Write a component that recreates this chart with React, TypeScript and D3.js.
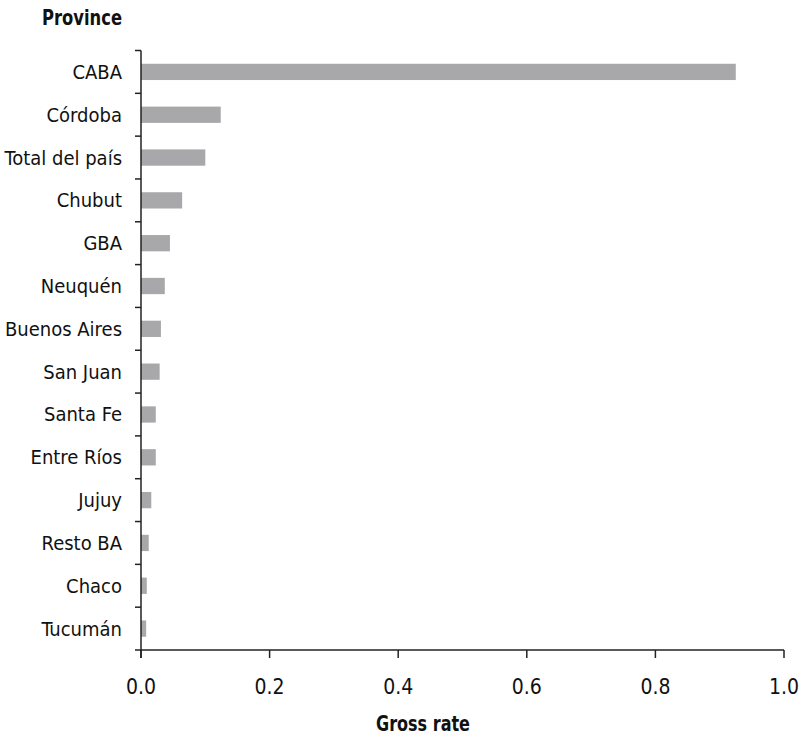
import React from "react";
import * as d3 from "d3";

const categories = ["CABA","Córdoba","Total del país","Chubut","GBA","Neuquén","Buenos Aires","San Juan","Santa Fe","Entre Ríos","Jujuy","Resto BA","Chaco","Tucumán"];
const values = [0.925,0.124,0.1,0.064,0.045,0.037,0.031,0.029,0.023,0.023,0.016,0.012,0.009,0.008];
const xTicks = [0,0.2,0.4,0.6,0.8,1.0];

const W = 802, H = 737;
const m = { left: 141, right: 784, top: 50.5, bottom: 650 };
const FONT = "'Liberation Sans Narrow', 'DejaVu Sans Condensed', 'Roboto Condensed', sans-serif";

export default function App() {
  const x = d3.scaleLinear().domain([0, 1]).range([m.left, m.right]);
  const y = d3.scaleBand().domain(categories).range([m.top, m.bottom]).paddingInner(0.62).paddingOuter(0.31);
  const band = d3.scaleBand().domain(categories).range([m.top, m.bottom]);
  const ax = "#222";
  return (
    <svg width={W} height={H} style={{ position: "absolute", left: 0, top: 0, background: "#fff" }} fontFamily={FONT}>
      <text x={42} y={25} fontSize={22} fontWeight="bold" textLength={80} lengthAdjust="spacingAndGlyphs" fill="#111">Province</text>
      {categories.map((c, i) => (
        <rect key={c} x={x(0)} y={y(c)} width={x(values[i]) - x(0)} height={y.bandwidth()} fill="#a8a8ab" />
      ))}
      {categories.map((c) => (
        <text key={c} x={122} y={band(c)! + band.bandwidth() / 2} dy="0.35em" fontSize={20} textAnchor="end" fill="#111">{c}</text>
      ))}
      {/* y axis */}
      <line x1={m.left} x2={m.left} y1={m.top} y2={m.bottom + 8} stroke={ax} strokeWidth={1.5} />
      {categories.map((c) => (
        <line key={c} x1={m.left - 6} x2={m.left} y1={band(c)} y2={band(c)} stroke={ax} strokeWidth={1.5} />
      ))}
      {/* x axis */}
      <line x1={m.left - 6} x2={m.right} y1={m.bottom} y2={m.bottom} stroke={ax} strokeWidth={1.5} />
      {xTicks.map((t) => (
        <g key={t}>
          <line x1={x(t)} x2={x(t)} y1={m.bottom} y2={m.bottom + 8} stroke={ax} strokeWidth={1.5} />
          <text x={x(t)} y={694} fontSize={21} textAnchor="middle" fill="#111">{d3.format(".1f")(t)}</text>
        </g>
      ))}
      <text x={376} y={731} fontSize={22} fontWeight="bold" textLength={94} lengthAdjust="spacingAndGlyphs" fill="#111">Gross rate</text>
    </svg>
  );
}
